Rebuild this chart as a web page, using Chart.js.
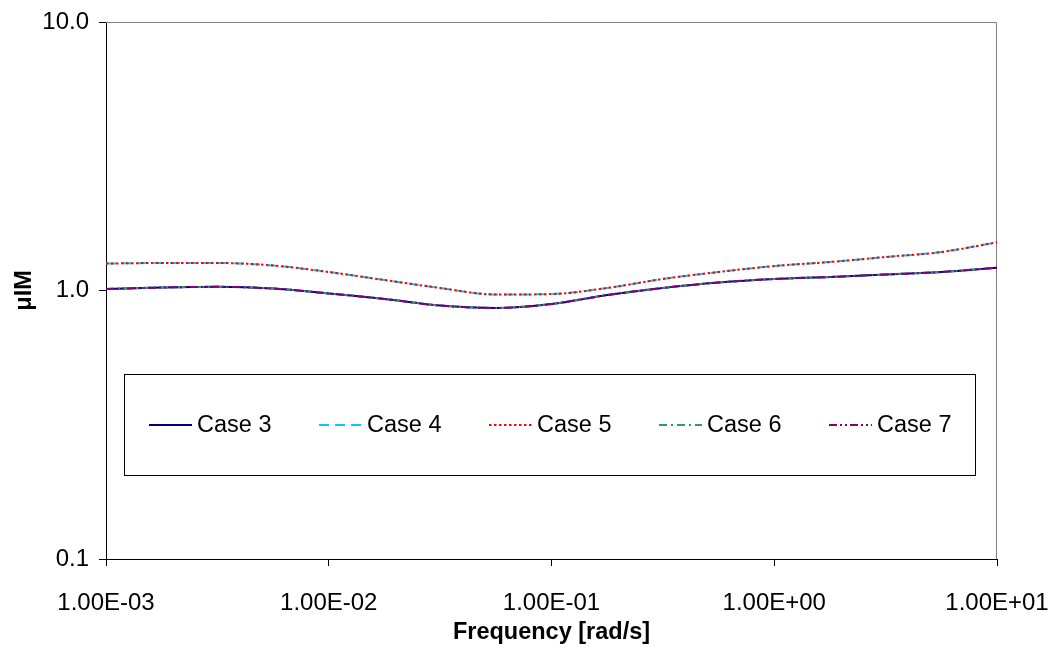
<!DOCTYPE html>
<html><head><meta charset="utf-8">
<script src="https://cdn.jsdelivr.net/npm/chart.js@4/dist/chart.umd.min.js"></script>
<style>html,body{margin:0;padding:0;background:#fff}</style>
</head><body>
<canvas id="c" width="1056" height="648"></canvas>
<script>
// ---- data ----
const frequency = [0.001, 0.00178, 0.00316, 0.00562, 0.01, 0.0178, 0.0316, 0.0562, 0.1, 0.178, 0.316, 0.562, 1, 1.78, 3.16, 5.62, 10];
const case3 = [1.013, 1.026, 1.032, 1.017, 0.975, 0.930, 0.879, 0.861, 0.891, 0.962, 1.022, 1.071, 1.104, 1.123, 1.147, 1.172, 1.216];
const case4 = [1.260, 1.266, 1.266, 1.239, 1.172, 1.094, 1.022, 0.966, 0.970, 1.022, 1.104, 1.172, 1.234, 1.277, 1.333, 1.391, 1.512];
const case5 = [1.260, 1.266, 1.266, 1.239, 1.172, 1.094, 1.022, 0.966, 0.970, 1.022, 1.104, 1.172, 1.234, 1.277, 1.333, 1.391, 1.512];
const case6 = [1.013, 1.026, 1.032, 1.017, 0.975, 0.930, 0.879, 0.861, 0.891, 0.962, 1.022, 1.071, 1.104, 1.123, 1.147, 1.172, 1.216];
const case7 = [1.013, 1.026, 1.032, 1.017, 0.975, 0.930, 0.879, 0.861, 0.891, 0.962, 1.022, 1.071, 1.104, 1.123, 1.147, 1.172, 1.216];
const seriesNames = ['Case 3', 'Case 4', 'Case 5', 'Case 6', 'Case 7'];
const xTickValues = [0.001, 0.01, 0.1, 1, 10];
const xTickLabels = ['1.00E-03', '1.00E-02', '1.00E-01', '1.00E+00', '1.00E+01'];
const yTickValues = [0.1, 1, 10];
const yTickLabels = ['0.1', '1.0', '10.0'];
const xTitle = 'Frequency [rad/s]';
const yTitle = 'μIM';

// ---- styles ----
const FONT = '"Liberation Sans", Arial, sans-serif';
const styles = [
  {color: '#000080', dash: []},
  {color: '#00CCFF', dash: [10, 6]},
  {color: '#FF0000', dash: [2.5, 2.5]},
  {color: '#339966', dash: [8, 4, 2, 4]},
  {color: '#800080', dash: [8, 3, 2, 3, 2, 3]}
];
const seriesValues = [case3, case4, case5, case6, case7];
const drawOrder = [4, 3, 2, 1, 0];

const datasets = seriesNames.map((name, i) => ({
  label: name,
  data: frequency.map((f, j) => ({x: f, y: seriesValues[i][j]})),
  borderColor: styles[i].color,
  borderDash: styles[i].dash,
  borderWidth: 2,
  pointRadius: 0,
  fill: false,
  cubicInterpolationMode: 'monotone',
  order: drawOrder[i]
}));

const framePlugin = {
  id: 'frame',
  beforeDatasetsDraw(chart) {
    const {ctx, chartArea: a} = chart;
    ctx.save();
    ctx.strokeStyle = '#808080';
    ctx.lineWidth = 1;
    ctx.beginPath();
    ctx.moveTo(a.left, a.top + 0.5);
    ctx.lineTo(a.right - 0.5, a.top + 0.5);
    ctx.lineTo(a.right - 0.5, a.bottom);
    ctx.stroke();
    ctx.restore();
  },
  afterDraw(chart) {
    const {ctx, chartArea: a} = chart;
    const bx = a.left + 18, by = a.top + 352, bw = (a.right - 22) - bx, bh = 101;
    ctx.save();
    ctx.fillStyle = '#fff';
    ctx.fillRect(bx, by, bw, bh);
    ctx.strokeStyle = '#000';
    ctx.lineWidth = 1;
    ctx.strokeRect(bx + 0.5, by + 0.5, bw, bh);
    const cy = by + 51;
    chart.data.datasets.forEach((ds, i) => {
      const x0 = bx + 25 + i * 170;
      ctx.beginPath();
      ctx.strokeStyle = ds.borderColor;
      ctx.lineWidth = 2;
      ctx.setLineDash(ds.borderDash);
      ctx.moveTo(x0, cy);
      ctx.lineTo(x0 + 43, cy);
      ctx.stroke();
      ctx.setLineDash([]);
      ctx.fillStyle = '#000';
      ctx.font = '23.5px ' + FONT;
      ctx.textBaseline = 'middle';
      ctx.textAlign = 'left';
      ctx.fillText(ds.label, x0 + 48, cy + 1);
    });
    ctx.restore();
  }
};

new Chart(document.getElementById('c'), {
  type: 'line',
  data: {datasets},
  plugins: [framePlugin],
  options: {
    responsive: false,
    animation: false,
    devicePixelRatio: 1,
    layout: {padding: {top: 22, right: 59, bottom: 0, left: 0}},
    plugins: {legend: {display: false}, tooltip: {enabled: false}},
    scales: {
      x: {
        type: 'logarithmic',
        min: 0.001, max: 10,
        afterBuildTicks: s => { s.ticks = xTickValues.map(v => ({value: v, major: true})); },
        afterFit: s => { s.height = 89; s.paddingLeft = 0; s.paddingRight = 0; },
        ticks: {
          autoSkip: false, maxRotation: 0, minRotation: 0,
          color: '#000', font: {family: FONT, size: 24}, padding: 23,
          callback: (v, i) => xTickLabels[i]
        },
        grid: {drawOnChartArea: false, drawTicks: true, tickLength: 7, color: '#000'},
        border: {display: true, color: '#000', width: 1},
        title: {display: true, text: xTitle, color: '#000', font: {family: FONT, size: 23.5, weight: 'bold'}, padding: {top: 2, bottom: 1}}
      },
      y: {
        type: 'logarithmic',
        min: 0.1, max: 10,
        afterBuildTicks: s => { s.ticks = yTickValues.map(v => ({value: v, major: true})); },
        afterFit: s => { s.width = 106; s.paddingTop = 0; s.paddingBottom = 0; },
        ticks: {
          autoSkip: false,
          color: '#000', font: {family: FONT, size: 24}, padding: 10,
          callback: (v, i) => yTickLabels[i]
        },
        grid: {drawOnChartArea: false, drawTicks: true, tickLength: 7, color: '#000'},
        border: {display: true, color: '#000', width: 1},
        title: {display: true, text: yTitle, color: '#000', font: {family: FONT, size: 23.5, weight: 'bold'}, padding: {top: 10, bottom: 4}}
      }
    }
  }
});
</script>
</body></html>
